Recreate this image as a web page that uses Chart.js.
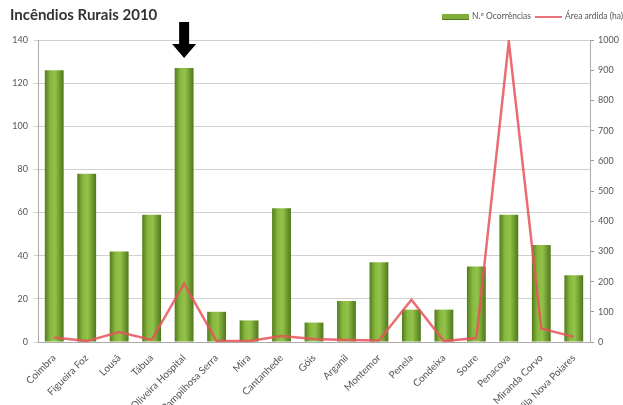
<!DOCTYPE html>
<html lang="pt">
<head>
  <meta charset="UTF-8">
  <title>Incêndios Rurais 2010</title>
  <script src="https://cdn.jsdelivr.net/npm/chart.js"></script>
  <style>
    html, body { margin: 0; padding: 0; background: #fff; overflow: hidden; }
    body { width: 623px; height: 405px; position: relative; font-family: Lato, "Open Sans", sans-serif; }
    #wrap { position: absolute; left: 0; top: 0; width: 623px; height: 405px; }
    #title { position: absolute; left: 10px; top: 5px; font-size: 15px; font-weight: bold; color: #333; }
    .leg { position: absolute; top: 11px; font-size: 8.5px; color: #555; white-space: nowrap; }
    .sw { display: inline-block; vertical-align: middle; margin-right: 3px; }
  </style>
</head>
<body>
  <div id="wrap"><canvas id="fireChart" width="623" height="405"></canvas></div>
  <div id="title">Incêndios Rurais 2010</div>
  <div class="leg" style="left:442px"><span class="sw" style="width:27px;height:5px;background:#7fae3a;border-bottom:1px solid #4f7a1a"></span>N.º Ocorrências</div>
  <div class="leg" style="left:535px"><span class="sw" style="width:27px;height:2px;background:#e8727a"></span>Área ardida (ha)</div>

  <script>
    const concelhos = ["Coimbra", "Figueira Foz", "Lousã", "Tábua", "Oliveira Hospital", "Pampilhosa Serra",
      "Mira", "Cantanhede", "Góis", "Arganil", "Montemor", "Penela", "Condeixa", "Soure",
      "Penacova", "Miranda Corvo", "Vila Nova Poiares"];
    const ocorrencias = [126, 78, 42, 59, 127, 14, 10, 62, 9, 19, 37, 15, 15, 35, 59, 45, 31];
    const areaArdida = [15, 3, 33, 7, 193, 3, 3, 20, 10, 7, 5, 140, 3, 13, 995, 45, 17];
    const leftTicks = [0, 20, 40, 60, 80, 100, 120, 140];
    const rightTicks = [0, 100, 200, 300, 400, 500, 600, 700, 800, 900, 1000];
    const markedIndex = 4; // seta sobre Oliveira Hospital

    // gradiente "cilindro" das barras
    function barGradient(c) {
      const chart = c.chart;
      const xs = chart.scales.x;
      if (!xs || c.dataIndex === undefined) return "#7fae3a";
      const x = xs.getPixelForValue(c.dataIndex);
      if (!isFinite(x)) return "#7fae3a";
      const g = chart.ctx.createLinearGradient(x - 10, 0, x + 10, 0);
      g.addColorStop(0, "#4c7516");
      g.addColorStop(0.3, "#86b83e");
      g.addColorStop(0.55, "#93c24a");
      g.addColorStop(1, "#4a7216");
      return g;
    }

    const arrowPlugin = {
      id: "arrow",
      afterDraw(chart) {
        const ctx = chart.ctx;
        const x = chart.scales.x.getPixelForValue(markedIndex);
        ctx.save();
        ctx.fillStyle = "#000";
        ctx.fillRect(x - 5, 22, 10, 24);
        ctx.beginPath();
        ctx.moveTo(x - 12, 44);
        ctx.lineTo(x + 12, 44);
        ctx.lineTo(x, 58);
        ctx.closePath();
        ctx.fill();
        ctx.restore();
      }
    };

    new Chart(document.getElementById("fireChart"), {
      data: {
        labels: concelhos,
        datasets: [
          {
            type: "line",
            label: "Área ardida (ha)",
            data: areaArdida,
            yAxisID: "y2",
            borderColor: "rgba(232, 84, 90, 0.85)",
            borderWidth: 2.5,
            pointRadius: 0,
            tension: 0,
            order: 0
          },
          {
            type: "bar",
            label: "N.º Ocorrências",
            data: ocorrencias,
            yAxisID: "y",
            backgroundColor: barGradient,
            barPercentage: 0.58,
            categoryPercentage: 1,
            order: 1
          }
        ]
      },
      options: {
        responsive: false,
        animation: false,
        layout: { padding: { top: 40, left: 4, right: 2, bottom: 0 } },
        plugins: { legend: { display: false }, tooltip: { enabled: false }, title: { display: false } },
        scales: {
          x: {
            grid: { display: false },
            border: { color: "#aaa" },
            ticks: { color: "#555", font: { family: "Lato", size: 10 }, minRotation: 45, maxRotation: 45, autoSkip: false, padding: 2 },
            afterFit(s) { s.height = 63; }
          },
          y: {
            position: "left",
            min: 0, max: 140,
            afterBuildTicks(s) { s.ticks = leftTicks.map(v => ({ value: v })); },
            grid: { color: "#d0d0d0", tickLength: 4 },
            border: { color: "#aaa" },
            ticks: { color: "#555", font: { family: "Lato", size: 9 }, padding: 6 },
            afterFit(s) { s.width = 34; }
          },
          y2: {
            position: "right",
            min: 0, max: 1000,
            afterBuildTicks(s) { s.ticks = rightTicks.map(v => ({ value: v })); },
            grid: { drawOnChartArea: false, color: "#999", tickLength: 4 },
            border: { color: "#aaa" },
            ticks: { color: "#555", font: { family: "Lato", size: 9 }, padding: 4, callback: v => String(v) },
            afterFit(s) { s.width = 31; }
          }
        }
      },
      plugins: [arrowPlugin]
    });
  </script>
</body>
</html>
